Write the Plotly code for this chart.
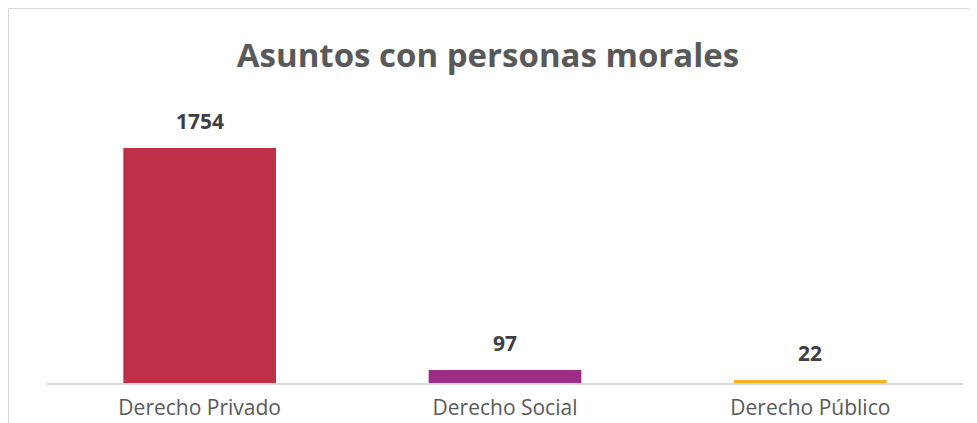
import plotly.graph_objects as go

categories = ["Derecho Privado", "Derecho Social", "Derecho Público"]
values = [1754, 97, 22]
colors = ["#BF2F47", "#9B2D85", "#F2B120"]
title_text = "Asuntos con personas morales"

fig = go.Figure()
fig.add_trace(go.Bar(
    x=categories, y=values, marker=dict(color=colors, line=dict(width=0)),
    width=0.5, hoverinfo="skip"
))

for c, v in zip(categories, values):
    fig.add_annotation(x=c, y=v, text=f"<b>{v}</b>", showarrow=False,
                       yanchor="bottom", yshift=11,
                       font=dict(family="Open Sans", size=21, color="#404040"))

# page is offset by 8px (body margin); figure coords = page coords - 8
OFF = 8
W, H = 977 - OFF, 423 - OFF
l = 47 - OFF
t = 115 - OFF
axis_y = 383 - OFF
right_px = 963 - OFF
r = W - right_px
b = H - axis_y
pw, ph = W - l - r, H - t - b
def px(x): return (x - OFF - l) / pw
def py(y): return (H - b - (y - OFF)) / ph

# outer chart border (top and left edges visible in the window)
fig.add_shape(type="line", xref="paper", yref="paper",
              x0=px(8.5), x1=px(1000), y0=py(8.5), y1=py(8.5),
              line=dict(color="#D9D9D9", width=1), layer="below")
fig.add_shape(type="line", xref="paper", yref="paper",
              x0=px(8.5), x1=px(8.5), y0=py(8.5), y1=py(460),
              line=dict(color="#D9D9D9", width=1), layer="below")

fig.update_layout(
    width=W, height=H,
    margin=dict(l=l, r=r, t=t, b=b, autoexpand=False),
    paper_bgcolor="white", plot_bgcolor="white",
    showlegend=False,
    title=dict(text=f"<b>{title_text}</b>", x=(488 - OFF) / W, xanchor="center",
               y=1 - (55 - OFF) / H, yanchor="middle",
               font=dict(family="Open Sans", size=33, color="#595959")),
    xaxis=dict(showline=True, linecolor="#D9D9D9", linewidth=2, automargin=False,
               ticks="", showgrid=False, ticklabelstandoff=5,
               tickfont=dict(family="Open Sans", size=21, color="#595959")),
    yaxis=dict(range=[0, 2000], visible=False, showgrid=False, zeroline=False),
)

fig.write_html("out.html")
